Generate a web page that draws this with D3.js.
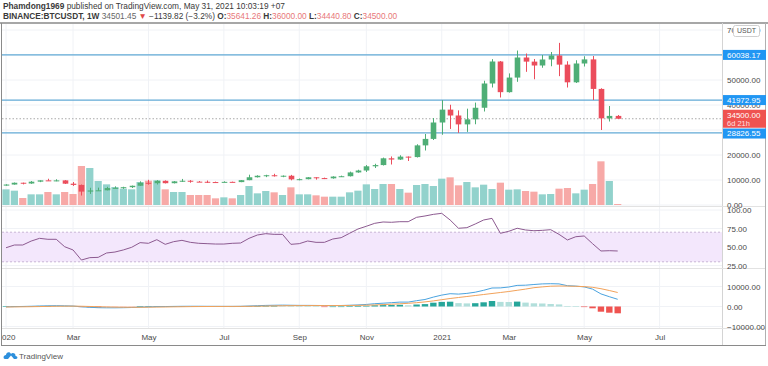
<!DOCTYPE html>
<html><head><meta charset="utf-8">
<script src="https://cdn.jsdelivr.net/npm/d3@7"></script>
<style>
body{margin:0;background:#fff;}
svg{display:block;font-family:"Liberation Sans",Arial,sans-serif;}
</style>
</head><body>
<svg id="c" width="768" height="366"></svg>
<script>
// ---------- DATA (weekly BTCUSDT, Binance) ----------
const firstWeek = "2020-01-06";
const opens = [7760,8185,8905,8600,9330,9860,9800,9850,8530,8030,
 5360,5820,5880,6770,6860,7120,7700,8890,8720,9680,
 8720,9450,9700,9340,9290,9180,9070,9260,9160,9930,
 11100,11700,11900,11650,11710,10250,10330,11080,10770,10670,
 11370,11510,13030,13800,15480,15970,18680,18180,19350,19170,
 23850,26440,33000,38150,35800,32250,34260,38900,48600,57400,
 45135,50970,59000,57350,55800,58200,59800,56150,49070,56600,
 58240,46430,34660,35641.26];
const highs = [8300,9000,8950,9570,9880,10500,10300,9960,9190,8200,
 6900,6950,7280,7470,7290,7780,9470,10080,9940,9840,
 9570,10430,9960,9590,9790,9340,9480,9350,10000,12120,
 11900,12090,12490,11830,12050,10590,11180,11090,10950,11490,
 11740,13350,14100,15970,16500,18960,19420,19900,19420,24300,
 28400,34800,41950,40100,37850,38530,40960,49700,58350,57600,
 52640,61780,60600,58400,60000,61200,64850,57500,57900,59500,
 59600,46700,39600,36000];
const lows = [7720,8150,8240,8470,9150,9700,9500,8400,7630,3780,
 4440,5650,5860,6750,6460,6810,7620,8120,8200,8630,
 8630,9260,8910,9200,8830,8990,9060,9100,9130,9920,
 11000,11150,11370,11120,9880,9880,10270,10140,10370,10530,
 11200,11400,12900,13200,14800,15800,16200,18000,17600,19000,
 21800,26000,28100,30420,28850,29240,32300,37400,47000,43000,
 44950,49270,53270,50300,54900,55500,51540,47000,48800,55400,
 42000,30000,33400,34440.8];
const closes = [8185,8905,8600,9330,9860,9800,9850,8530,8030,5360,
 5820,5880,6770,6860,7120,7700,8890,8720,9680,8720,
 9450,9700,9340,9290,9180,9070,9260,9160,9930,11100,
 11700,11900,11650,11710,10250,10330,11080,10770,10670,11370,
 11510,13030,13800,15480,15970,18680,18180,19350,19170,23850,
 26440,33000,38150,35800,32250,34260,38900,48600,57400,45135,
 50970,59000,57350,55800,58200,59800,56150,49070,56600,58240,
 46430,34660,35641.26,34500];
const volumes = [470,430,210,320,320,390,320,390,330,1170,
 1110,720,620,540,490,470,690,730,740,470,
 390,390,300,300,300,200,230,200,300,570,
 350,420,380,300,530,320,320,290,250,250,
 250,380,430,620,480,630,630,480,370,600,
 630,570,790,830,590,690,530,610,480,670,
 460,470,420,400,320,330,490,510,350,460,
 630,1310,720,30];
const rsiValues = [49,52.7,52.7,58,61.7,60.4,60.4,50.4,46,32.4,
 35.6,36,41.9,43.2,46,49.6,55.9,55,59.9,53.6,
 57.2,59,56.3,55,54.5,54,54,55,55.4,61.7,
 66.2,68,67.1,67.1,53.6,54.5,58.1,56.3,56.3,60.8,
 62.6,68.5,74.3,78,82,83.8,83.4,84.2,84.2,90.1,
 91.9,94.1,95.5,86.5,75.3,76.1,81.1,86.5,88.7,68.5,
 71.2,75.3,73,72,72.5,73.4,67.1,59.5,63.9,64.9,
 54.5,44.6,45,44.6];
const macdLine = [-150,-50,20,120,250,340,400,340,230,-150,
 -400,-600,-650,-650,-600,-500,-320,-200,-60,-20,
 40,100,120,120,100,80,70,60,100,250,
 400,540,620,680,620,560,560,520,470,480,
 500,620,780,1020,1400,1650,1900,2200,2200,2900,
 3500,4700,5700,6400,6200,6550,7150,8100,9250,9300,
 9750,10550,10650,11000,11300,11400,11300,10400,10200,9800,
 8700,6300,4900,3600];
const signalLine = [-250,-200,-150,-100,-30,50,120,170,180,120,
 10,-110,-220,-300,-360,-390,-380,-340,-280,-230,
 -170,-110,-60,-20,0,20,30,40,50,90,
 150,230,300,380,420,450,470,480,480,480,
 490,510,560,650,780,950,1150,1350,1600,1900,
 2300,2800,3400,4000,4500,5000,5500,6000,6500,7000,
 7500,8100,8700,9400,9800,10150,10250,10200,10100,9950,
 9600,8900,8000,7000];
const histValues = [100,150,170,220,280,290,280,170,50,-270,
 -410,-490,-430,-350,-240,-110,60,140,220,210,
 210,210,180,140,100,60,40,20,50,160,
 250,310,320,300,200,110,90,40,-10,0,
 10,110,220,370,620,700,750,850,600,1000,
 1200,1900,2300,2400,1700,1550,1650,2100,2750,2300,
 2250,2450,1950,1600,1500,1250,1050,200,100,-150,
 -900,-2600,-3100,-3400];
const levelLines = [60038.17, 41972.95, 28826.55];
const lastPrice = 34500.00;
const lastLabel = "34500.00";
const countdown = "6d 21h";
const gridPriceTicks = [0,10000,20000,30000,40000,50000,60000,70000];
const priceTicks = [0,10000,20000,40000,50000,70000];   // 30000 / 60000 are hidden under the level labels
const rsiTicks = [100,75,50,25];
const macdTicks = [10000,0,-10000];
const timeTickDates = ["2020-01-06","2020-03-02","2020-05-04","2020-07-06","2020-09-07","2020-11-02","2021-01-04","2021-03-01","2021-05-03","2021-07-05"];
const timeTickLabels = ["2020","Mar","May","Jul","Sep","Nov","2021","Mar","May","Jul"];

// ---------- LAYOUT ----------
const svg = d3.select("#c");
const L = 2, R = 722;
const P = {top:24, bot:206};
const RS = {top:206, bot:268};
const MC = {top:268, bot:328};
const parse = d3.utcParse("%Y-%m-%d");
const n = closes.length;
const dates = d3.range(n).map(i => d3.utcMonday.offset(parse(firstWeek), i));

const x = d3.scaleUtc().domain([dates[0], dates[n-1]]).range([6, 617.7]);
const y = d3.scaleLinear().domain([0, 70000]).range([205, 30]);
const yVol = d3.scaleLinear().domain([0, 1500]).range([205, 155]);
const yR = d3.scaleLinear().domain([25, 100]).range([265.5, 210]);
const yM = d3.scaleLinear().domain([-10000, 10000]).range([326.5, 286.5]);

const upC = "#4fae76", dnC = "#eb4d5c";
const upV = "#92d2cc", dnV = "#f7a9a7";
const gridC = "#f0f2f6";
const axisText = "#4a4a4a";

const defs = svg.append("defs");
defs.append("clipPath").attr("id","plot").append("rect").attr("x",L).attr("y",P.top).attr("width",R-L).attr("height",MC.bot-P.top);
defs.append("clipPath").attr("id","taxis").append("rect").attr("x",L).attr("y",MC.bot).attr("width",R-L).attr("height",18);

// ---------- GRID ----------
const tickDates = timeTickDates.map(parse);
const g = svg.append("g").attr("clip-path","url(#plot)");
g.selectAll("line.vg").data(tickDates).join("line")
  .attr("x1",d=>x(d)).attr("x2",d=>x(d)).attr("y1",P.top).attr("y2",MC.bot)
  .attr("stroke",gridC).attr("stroke-width",1);
g.selectAll("line.hg").data(gridPriceTicks).join("line")
  .attr("x1",L).attr("x2",R).attr("y1",d=>y(d)).attr("y2",d=>y(d))
  .attr("stroke",gridC);
g.selectAll("line.rg").data(rsiTicks).join("line")
  .attr("x1",L).attr("x2",R).attr("y1",d=>yR(d)).attr("y2",d=>yR(d))
  .attr("stroke",gridC);
g.selectAll("line.mg").data(macdTicks).join("line")
  .attr("x1",L).attr("x2",R).attr("y1",d=>yM(d)).attr("y2",d=>yM(d))
  .attr("stroke",gridC);

// ---------- VOLUME ----------
const idx = d3.range(n);
g.selectAll("rect.vol").data(idx).join("rect")
  .attr("x", i => x(dates[i]) - 3.6).attr("width", 7.2)
  .attr("y", i => yVol(volumes[i])).attr("height", i => yVol(0) - yVol(volumes[i]))
  .attr("fill", i => closes[i] >= opens[i] ? upV : dnV);

// ---------- LEVEL LINES ----------
g.selectAll("line.lvl").data(levelLines).join("line")
  .attr("x1",L).attr("x2",R).attr("y1",d=>y(d)).attr("y2",d=>y(d))
  .attr("stroke","#62aad6").attr("stroke-width",1.3);
g.append("line").attr("x1",L).attr("x2",R).attr("y1",y(lastPrice)).attr("y2",y(lastPrice))
  .attr("stroke","#a8a8a8").attr("stroke-dasharray","1.5,2");

// ---------- CANDLES ----------
const cg = g.append("g");
cg.selectAll("line.wick").data(idx).join("line")
  .attr("x1", i => Math.round(x(dates[i]))+0.5).attr("x2", i => Math.round(x(dates[i]))+0.5)
  .attr("y1", i => y(highs[i])).attr("y2", i => y(lows[i]))
  .attr("stroke", i => closes[i] >= opens[i] ? upC : dnC).attr("stroke-width",1);
cg.selectAll("rect.body").data(idx).join("rect")
  .attr("x", i => Math.round(x(dates[i])) + 0.5 - 2.8).attr("width", 5.6)
  .attr("y", i => y(Math.max(opens[i],closes[i])))
  .attr("height", i => Math.max(1, Math.abs(y(opens[i]) - y(closes[i]))))
  .attr("fill", i => closes[i] >= opens[i] ? upC : dnC);

// ---------- RSI ----------
g.append("rect").attr("x",L).attr("width",R-L).attr("y",yR(70)).attr("height",yR(30)-yR(70)).attr("fill","#f3e7fc");
[70,30].forEach(v => g.append("line").attr("x1",L).attr("x2",R).attr("y1",yR(v)).attr("y2",yR(v))
  .attr("stroke","#c8b6d6").attr("stroke-dasharray","2,2"));
g.append("path").datum(idx)
  .attr("d", d3.line().x(i => x(dates[i])).y(i => yR(rsiValues[i])))
  .attr("fill","none").attr("stroke","#8c5a90").attr("stroke-width",1);

// ---------- MACD ----------
g.selectAll("rect.hist").data(idx).join("rect")
  .attr("x", i => x(dates[i]) - 3.2).attr("width", 6.4)
  .attr("y", i => yM(Math.max(0, histValues[i])))
  .attr("height", i => Math.max(0.6, Math.abs(yM(histValues[i]) - yM(0))))
  .attr("fill", i => {
    const h = histValues[i], p = i > 0 ? histValues[i-1] : h;
    if (h >= 0) return h >= p ? "#26a69a" : "#b2dfdb";
    return h < p ? "#ef5350" : "#ffcdd2";
  });
g.append("path").datum(idx)
  .attr("d", d3.line().x(i => x(dates[i])).y(i => yM(macdLine[i])))
  .attr("fill","none").attr("stroke","#4aa3df").attr("stroke-width",1);
g.append("path").datum(idx)
  .attr("d", d3.line().x(i => x(dates[i])).y(i => yM(signalLine[i])))
  .attr("fill","none").attr("stroke","#f2a25a").attr("stroke-width",1);

// ---------- FRAME / SEPARATORS ----------
svg.append("line").attr("x1",0).attr("x2",768).attr("y1",23).attr("y2",23).attr("stroke","#8a8a8a").attr("stroke-width",1.5);
svg.append("line").attr("x1",1.5).attr("x2",1.5).attr("y1",23).attr("y2",346).attr("stroke","#8a8a8a");
svg.append("line").attr("x1",765.5).attr("x2",765.5).attr("y1",23).attr("y2",346).attr("stroke","#b0b0b0");
svg.append("line").attr("x1",1).attr("x2",766).attr("y1",345.5).attr("y2",345.5).attr("stroke","#8a8a8a");
svg.append("line").attr("x1",R+0.5).attr("x2",R+0.5).attr("y1",23).attr("y2",345).attr("stroke","#d4d4d4");
[RS.top, MC.top, MC.bot].forEach(v => svg.append("line").attr("x1",2).attr("x2",765).attr("y1",v+0.5).attr("y2",v+0.5).attr("stroke","#e2e2e2"));

// ---------- AXES ----------
function styleAxis(sel){
  sel.select(".domain").remove();
  sel.selectAll("line").remove();
  sel.selectAll("text").attr("fill",axisText).style("font-size","8px").style("font-family","Liberation Sans, Arial, sans-serif");
}
svg.append("g").attr("transform",`translate(${R},0)`)
  .call(d3.axisRight(y).tickValues(priceTicks).tickFormat(d3.format(".2f")).tickSize(0).tickPadding(5))
  .call(styleAxis);
svg.append("g").attr("transform",`translate(${R},0)`)
  .call(d3.axisRight(yR).tickValues(rsiTicks).tickFormat(d3.format(".2f")).tickSize(0).tickPadding(5))
  .call(styleAxis);
svg.append("g").attr("transform",`translate(${R},0)`)
  .call(d3.axisRight(yM).tickValues(macdTicks).tickFormat(d3.format(".2f")).tickSize(0).tickPadding(5))
  .call(styleAxis);
svg.append("g").attr("clip-path","url(#taxis)").append("g").attr("transform",`translate(0,${MC.bot})`)
  .call(d3.axisBottom(x).tickValues(tickDates).tickFormat((d,i)=>timeTickLabels[i]).tickSize(0).tickPadding(6))
  .call(styleAxis);

// ---------- PRICE LABELS ----------
const labG = svg.append("g");
labG.append("rect").attr("x",R+1).attr("y",y(lastPrice)-9).attr("width",43).attr("height",18).attr("fill","#ef5350");
labG.append("text").attr("x",R+5).attr("y",y(lastPrice)-4).attr("dy","0.35em").attr("fill","#fff").style("font-size","8px").text(lastLabel);
labG.append("text").attr("x",R+5).attr("y",y(lastPrice)+4.3).attr("dy","0.35em").attr("fill","#fde0e0").style("font-size","7.5px").text(countdown);
levelLines.forEach((v,k) => {
  const cy = k === 2 ? y(v) + 0.6 : y(v);
  labG.append("rect").attr("x",R+1).attr("y",cy-5).attr("width",43).attr("height",10).attr("fill","#2196f3");
  labG.append("text").attr("x",R+5).attr("y",cy).attr("dy","0.35em").attr("fill","#fff").style("font-size","8px").text(v.toFixed(2));
});
labG.append("rect").attr("x",733.5).attr("y",25.5).attr("width",26).attr("height",11).attr("rx",2).attr("fill","#fff").attr("stroke","#cfcfcf");
labG.append("text").attr("x",746.5).attr("y",31).attr("dy","0.35em").attr("text-anchor","middle").attr("fill","#555").style("font-size","7px").text("USDT");

// ---------- HEADER ----------
const h1 = svg.append("text").attr("x",3).attr("y",9).attr("fill","#3a3a3a").style("font-size","8.3px");
h1.append("tspan").attr("font-weight","bold").text("Phamdong1969");
h1.append("tspan").text(" published on TradingView.com, May 31, 2021 10:03:19 +07");
const h2 = svg.append("text").attr("x",3).attr("y",19).attr("fill","#3a3a3a").style("font-size","8.3px");
const redT = "#e8787a";
[["BINANCE:BTCUSDT, 1W","bold",null],[" 34501.45 ",null,"#666"],["▼",null,"#e04848"],[" −1139.82 (−3.2%) ",null,null],
 ["O:","bold",null],["35641.26",null,redT],[" H:","bold",null],["36000.00",null,redT],[" L:","bold",null],["34440.80",null,redT],[" C:","bold",null],["34500.00",null,redT]]
 .forEach(([t,w,c]) => { const s = h2.append("tspan").text(t); if(w) s.attr("font-weight",w); if(c) s.attr("fill",c); });

// ---------- LOGO ----------
const logo = svg.append("g").attr("transform","translate(4,350)");
logo.append("path").attr("d","M1,9 C-1,9 -1,5 2,5 C2,2 6,1 7,4 C8,2 12,3 11.5,6 C14,6 14,9 12,9 Z").attr("fill","#2d8fdc");
logo.append("path").attr("d","M4,9 L7,5.5 L10,9 Z").attr("fill","#fff");
svg.append("text").attr("x",19).attr("y",359).attr("fill","#555").style("font-size","8px").text("TradingView");
</script>
</body></html>
